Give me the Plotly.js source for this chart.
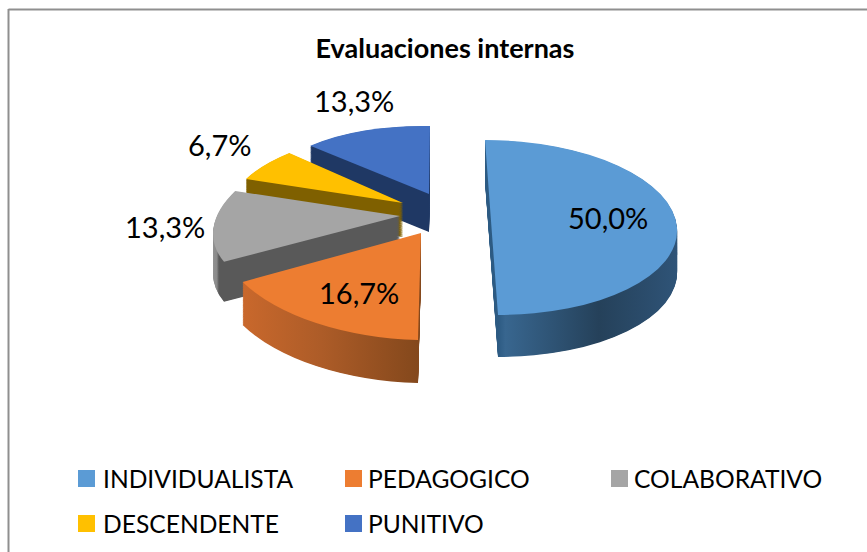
<!DOCTYPE html>
<html><head><meta charset="utf-8">
<script src="https://cdn.plot.ly/plotly-3.0.1.min.js"></script>
<style>html,body{margin:0;padding:0;background:#fff}#c{width:867px;height:552px}</style>
</head><body><div id="c"></div>
<script>
const categories = ['INDIVIDUALISTA','PEDAGOGICO','COLABORATIVO','DESCENDENTE','PUNITIVO'];
const values = [50.0,16.7,13.3,6.7,13.3];
const colors = ['#5B9BD5','#ED7D31','#A5A5A5','#FFC000','#4472C4'];
const chartTitle = 'Evaluaciones internas';
const explosion = 0.25;
const FONT = 'Lato, Carlito, Calibri, sans-serif';

// Side-wall shading (left to right) for the simulated extrusion
const sideStops = [
  [[0,'#2c5a82'],[0.04,'#38668f'],[0.55,'#25415a'],[1,'#2f5478']],
  [[0,'#c9682c'],[0.45,'#ad5c28'],[1,'#84481c']],
  [[0,'#949494'],[0.07,'#8a8a8a'],[0.09,'#595959'],[1,'#595959']],
  [[0,'#7f6000'],[1,'#7f6000']],
  [[0,'#1f3864'],[1,'#1f3864']]
];
// Per-slice 3D projection (perspective approximation): apex, radii, skew, shear, depth
const projection = [
  {ax:491.5,ay:227.5,rx:185.5,ry:87.5,sk:6.5,sh:0,d:42},
  {ax:421,ay:233,rx:204,ry:107,sk:-3,sh:5,d:43},
  {ax:400,ay:216,rx:184,ry:88,sk:-33,sh:-2.3,d:40},
  {ax:403,ay:203,rx:171.7,ry:73,sk:-20.3,sh:1.5,d:34},
  {ax:429,ay:194,rx:161,ry:68,sk:-1,sh:3.4,d:38}
];
const labelPos = [[608,217],[359,292],[165,227],[220,145],[354,100]];
const legendPos = [[78,478.5],[345,478.5],[611,478.5],[78,523.5],[345,523.5]];
const legendTextGap = [25,23,23,25,23];

const W=867,H=552,LAYERS=60;
const fmt = v => v.toFixed(1).replace('.',',')+'%';
const domain = {x:[0,1],y:[0.1,0.9]};
const pull = values.map(()=>explosion);

const traces=[];
for(let k=0;k<=LAYERS;k++){
  const top = k===LAYERS;
  traces.push({type:'pie',labels:categories,values:values,sort:false,direction:'clockwise',rotation:0,
    domain:domain,pull:pull,textinfo:'none',hoverinfo:'skip',showlegend:top,
    marker:{colors:colors,line:{width:0}}});
}
const layout={width:W,height:H,margin:{l:0,r:0,t:0,b:0},paper_bgcolor:'#fff',
  font:{family:FONT,color:'#000'},
  title:{text:'<b>'+chartTitle+'</b>',x:445/W,xanchor:'center',y:1-49/H,yanchor:'middle',font:{family:FONT,size:27,color:'#000'}},
  legend:{orientation:'h',x:0,y:0.2,xanchor:'left',yanchor:'top',font:{family:FONT,size:24.6,color:'#000'},bgcolor:'rgba(0,0,0,0)'},
  annotations:values.map((v,i)=>({xref:'paper',yref:'paper',x:labelPos[i][0]/W,y:1-labelPos[i][1]/H,
    text:fmt(v),showarrow:false,xanchor:'center',yanchor:'middle',font:{family:FONT,size:29,color:'#000'}})),
  shapes:[
    {type:'line',xref:'paper',yref:'paper',x0:8.5/W,x1:8.5/W,y0:0,y1:1-9/H,line:{color:'#8f8f8f',width:2}},
    {type:'line',xref:'paper',yref:'paper',x0:8.5/W,x1:1,y0:1-9.5/H,y1:1-9.5/H,line:{color:'#8f8f8f',width:2}}
  ]
};
Plotly.newPlot('c',traces,layout,{displayModeBar:false}).then(gd=>{
  const svg=gd.querySelector('.main-svg');
  const NS='http://www.w3.org/2000/svg';
  const defs=svg.querySelector('defs')||svg.insertBefore(document.createElementNS(NS,'defs'),svg.firstChild);
  sideStops.forEach((st,i)=>{
    const g=document.createElementNS(NS,'linearGradient');
    g.setAttribute('id','side'+i);
    st.forEach(s=>{const e=document.createElementNS(NS,'stop');e.setAttribute('offset',s[0]);e.setAttribute('stop-color',s[1]);g.appendChild(e);});
    defs.appendChild(g);
  });
  const total=values.reduce((a,b)=>a+b,0);
  const h=H*(domain.y[1]-domain.y[0]);
  const r=h/2/(1+explosion), cx=W/2, cy=H/2;
  let acc=0;
  const src=values.map(v=>{const m=(acc+v/2)/total*2*Math.PI;acc+=v;
    return [cx+explosion*r*Math.sin(m),cy-explosion*r*Math.cos(m)];});
  const layers=[...gd.querySelectorAll('.pielayer .trace')];
  layers.forEach((tr,k)=>{
    const top=k===LAYERS;
    const off=(LAYERS-k)/LAYERS;
    const slices=[...tr.querySelectorAll('.slice')];
    slices.forEach((s,i)=>{
      const p=projection[i],a=p.rx/r,b=p.sh/r,c=p.sk/r,d=p.ry/r;
      const e=p.ax-a*src[i][0]-c*src[i][1];
      const f=p.ay+p.d*off-b*src[i][0]-d*src[i][1];
      const path=s.querySelector('path.surface');
      path.setAttribute('transform',`matrix(${a},${b},${c},${d},${e},${f})`);
      if(!top){path.style.fill=`url(#side${i})`;path.style.stroke='none';}
    });
    // back-to-front painting order
    [...slices].reverse().forEach(s=>s.parentNode.appendChild(s));
  });
  // legend layout
  const sb=gd.querySelector('.legend .scrollbox');
  if(sb) sb.removeAttribute('clip-path');
  gd.querySelectorAll('.legend').forEach(l=>l.setAttribute('transform','translate(0,0)'));
  if(sb) sb.setAttribute('transform','translate(0,0)');
  gd.querySelectorAll('.legend .traces').forEach((t,i)=>{
    t.setAttribute('transform',`translate(0,${legendPos[i][1]})`);
    const pt=t.querySelector('.legendpoints');
    if(pt) pt.setAttribute('transform',`translate(${legendPos[i][0]+8.5},0)`);
    t.querySelectorAll('.legendpoints path').forEach(q=>{q.setAttribute('d','M8.5,8.5H-8.5V-8.5H8.5Z');q.setAttribute('transform','');q.style.strokeWidth='0';});
    const tx=t.querySelector('text.legendtext');
    if(tx){tx.setAttribute('x',legendPos[i][0]+legendTextGap[i]);}
  });
});
</script></body></html>
